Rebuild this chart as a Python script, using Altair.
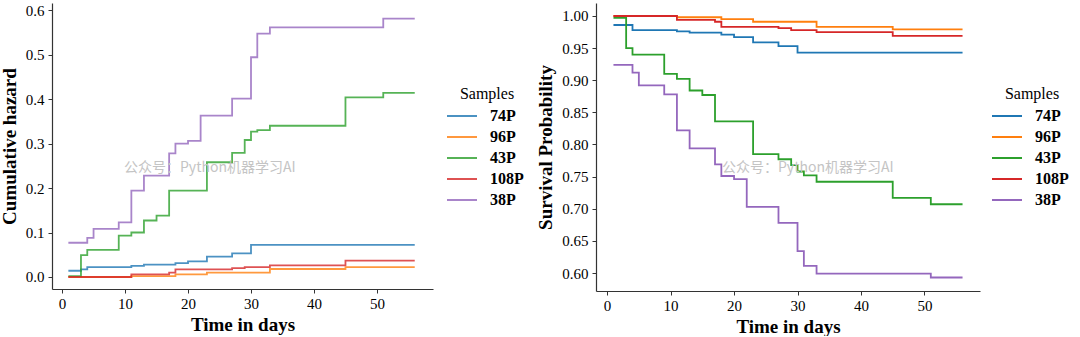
import altair as alt
import pandas as pd

samples = ["74P", "96P", "43P", "108P", "38P"]
colors = ["#1f77b4", "#ff7f0e", "#2ca02c", "#d62728", "#9467bd"]

# Cumulative hazard (left panel)
haz_t_74P = [1, 3, 4, 11, 13, 18, 20, 23, 27, 30, 56]
haz_v_74P = [0.014, 0.017, 0.022, 0.025, 0.028, 0.031, 0.035, 0.046, 0.053, 0.072, 0.072]
haz_t_96P = [1, 11, 18, 23, 33, 45, 56]
haz_v_96P = [0.0, 0.002, 0.006, 0.010, 0.018, 0.022, 0.022]
haz_t_43P = [1, 3, 4, 9, 11, 13, 15, 17, 23, 27, 29, 30, 31, 33, 45, 51, 56]
haz_v_43P = [0.002, 0.049, 0.061, 0.093, 0.100, 0.127, 0.138, 0.194, 0.258, 0.279,
             0.308, 0.327, 0.330, 0.340, 0.404, 0.414, 0.414]
haz_t_108P = [1, 11, 17, 18, 27, 29, 33, 45, 56]
haz_v_108P = [0.0, 0.006, 0.010, 0.017, 0.020, 0.022, 0.026, 0.037, 0.037]
haz_t_38P = [1, 4, 5, 9, 11, 13, 17, 18, 20, 22, 27, 30, 31, 33, 51, 56]
haz_v_38P = [0.077, 0.088, 0.108, 0.123, 0.194, 0.228, 0.278, 0.300, 0.306, 0.363,
             0.401, 0.494, 0.547, 0.561, 0.581, 0.581]

# Survival probability (right panel)
surv_t_74P = [1, 4, 11, 13, 18, 20, 23, 27, 30, 56]
surv_v_74P = [0.986, 0.978, 0.976, 0.974, 0.971, 0.967, 0.959, 0.953, 0.943, 0.943]
surv_t_96P = [1, 11, 18, 23, 33, 45, 56]
surv_v_96P = [1.0, 0.998, 0.995, 0.991, 0.983, 0.979, 0.979]
surv_t_43P = [1, 3, 4, 9, 11, 13, 15, 17, 23, 27, 29, 30, 31, 33, 45, 51, 56]
surv_v_43P = [0.997, 0.950, 0.940, 0.910, 0.902, 0.884, 0.877, 0.836, 0.785, 0.777,
              0.768, 0.758, 0.752, 0.742, 0.717, 0.707, 0.707]
surv_t_108P = [1, 11, 17, 18, 27, 29, 33, 45, 56]
surv_v_108P = [1.0, 0.994, 0.991, 0.983, 0.981, 0.978, 0.975, 0.969, 0.969]
surv_t_38P = [1, 4, 5, 9, 11, 13, 17, 18, 20, 22, 27, 30, 31, 33, 51, 56]
surv_v_38P = [0.924, 0.912, 0.892, 0.878, 0.822, 0.794, 0.769, 0.751, 0.746, 0.703,
              0.678, 0.634, 0.611, 0.599, 0.593, 0.593]

watermark = "公众号：Python机器学习AI"

haz_series = {
    "74P": (haz_t_74P, haz_v_74P), "96P": (haz_t_96P, haz_v_96P),
    "43P": (haz_t_43P, haz_v_43P), "108P": (haz_t_108P, haz_v_108P),
    "38P": (haz_t_38P, haz_v_38P),
}
surv_series = {
    "74P": (surv_t_74P, surv_v_74P), "96P": (surv_t_96P, surv_v_96P),
    "43P": (surv_t_43P, surv_v_43P), "108P": (surv_t_108P, surv_v_108P),
    "38P": (surv_t_38P, surv_v_38P),
}


def to_df(series):
    rows = []
    for s in samples:
        ts, vs = series[s]
        for t, v in zip(ts, vs):
            rows.append({"t": t, "v": v, "Samples": s})
    return pd.DataFrame(rows)


haz_df = to_df(haz_series)
surv_df = to_df(surv_series)
wm_df = pd.DataFrame({"txt": [watermark]})

SERIF = "Liberation Serif"


def legend(x, y, opacity):
    return alt.Legend(
        title="Samples", orient="none", legendX=x, legendY=y,
        symbolType="M-1.5,0H1.5", symbolSize=400, symbolStrokeWidth=2,
        symbolOpacity=opacity,
        labelFont=SERIF, labelFontSize=16, labelFontWeight="bold", labelColor="black",
        titleFont=SERIF, titleFontSize=16, titleFontWeight="normal", titleColor="black",
        titleAnchor="middle", titlePadding=3, rowPadding=2, labelOffset=17,
    )


def axis_common(**kw):
    return alt.Axis(
        grid=False, domainColor="#333333", domainWidth=1.2, tickColor="#333333",
        tickSize=4, labelFont=SERIF, labelFontSize=15, labelColor="black",
        titleFont=SERIF, titleFontSize=19, titleFontWeight="bold", titleColor="black",
        **kw,
    )


left_lines = alt.Chart(haz_df).mark_line(interpolate="step-after", strokeWidth=1.8, opacity=0.8).encode(
    x=alt.X("t:Q", scale=alt.Scale(domain=[-1.6, 58.9], nice=False, zero=False),
            axis=axis_common(title="Time in days", values=[0, 10, 20, 30, 40, 50],
                             labelPadding=3, titlePadding=4)),
    y=alt.Y("v:Q", scale=alt.Scale(domain=[-0.027, 0.616], nice=False, zero=False),
            axis=axis_common(title="Cumulative hazard", values=[0, 0.1, 0.2, 0.3, 0.4, 0.5, 0.6],
                             format=".1f", labelPadding=4, titlePadding=6)),
    color=alt.Color("Samples:N", scale=alt.Scale(domain=samples, range=colors),
                    sort=samples, legend=legend(399, 83, 0.8)),
)
left_wm = alt.Chart(wm_df).mark_text(
    align="left", baseline="middle", font="Noto Sans CJK SC", fontSize=14, color="#c4c4c4"
).encode(x=alt.value(72), y=alt.value(165), text="txt:N")
left = alt.layer(left_lines, left_wm).properties(width=381, height=286)

right_lines = alt.Chart(surv_df).mark_line(interpolate="step-after", strokeWidth=1.8).encode(
    x=alt.X("t:Q", scale=alt.Scale(domain=[-1.75, 58.75], nice=False, zero=False),
            axis=axis_common(title="Time in days", values=[0, 10, 20, 30, 40, 50],
                             labelPadding=3, titlePadding=4)),
    y=alt.Y("v:Q", scale=alt.Scale(domain=[0.572, 1.0202], nice=False, zero=False),
            axis=axis_common(title="Survival Probability",
                             values=[0.6, 0.65, 0.7, 0.75, 0.8, 0.85, 0.9, 0.95, 1.0],
                             format=".2f", labelPadding=4, titlePadding=6)),
    color=alt.Color("Samples:N", scale=alt.Scale(domain=samples, range=colors),
                    sort=samples, legend=legend(400, 83, 1.0)),
)
right_wm = alt.Chart(wm_df).mark_text(
    align="left", baseline="middle", font="Noto Sans CJK SC", fontSize=14, color="#c4c4c4"
).encode(x=alt.value(126), y=alt.value(165), text="txt:N")
right = alt.layer(right_lines, right_wm).properties(width=384, height=288)

chart = alt.hconcat(left, right, spacing=12).resolve_scale(color="independent").properties(
    padding={"left": 0, "top": 3, "right": 0, "bottom": 0}, background="white"
).configure_view(strokeWidth=0, stroke="transparent")

chart.save("out.html", embed_options={"renderer": "svg", "actions": False})
